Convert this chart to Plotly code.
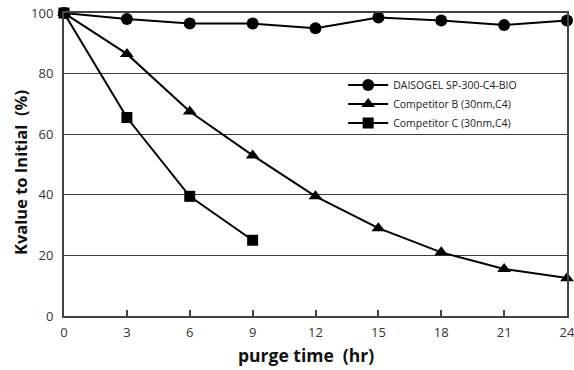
import plotly.graph_objects as go

hours_full = [0, 3, 6, 9, 12, 15, 18, 21, 24]
hours_c = [0, 3, 6, 9]
daisogel = [100, 98, 96.5, 96.5, 95, 98.5, 97.5, 96, 97.5]
competitor_b = [100, 86.5, 67.5, 53, 39.5, 29, 21, 15.5, 12.5]
competitor_c = [100, 65.5, 39.5, 25]
x_ticks = [0, 3, 6, 9, 12, 15, 18, 21, 24]
y_ticks = [0, 20, 40, 60, 80, 100]

FONT = "Open Sans, DejaVu Sans, sans-serif"

fig = go.Figure()
series = [
    ("DAISOGEL SP-300-C4-BIO", hours_full, daisogel, "circle", 12),
    ("Competitor B (30nm,C4)", hours_full, competitor_b, "triangle-up", 12),
    ("Competitor C (30nm,C4)", hours_c, competitor_c, "square", 11),
]
for name, xs, ys, sym, size in series:
    fig.add_trace(go.Scatter(
        x=xs, y=ys, name=name, mode="lines+markers",
        line=dict(color="black", width=2),
        marker=dict(symbol=sym, size=size, color="black"),
        cliponaxis=False,
    ))

fig.update_layout(
    width=574, height=370,
    margin=dict(l=64, r=7, t=13, b=54),
    paper_bgcolor="white", plot_bgcolor="white",
    font=dict(family=FONT, color="#333"),
    showlegend=True,
    legend=dict(
        x=0.555, y=0.81, xanchor="left", yanchor="top",
        bgcolor="rgba(0,0,0,0)", borderwidth=0,
        font=dict(size=10.5, color="#222", family=FONT),
        itemwidth=40, tracegroupgap=0,
    ),
    annotations=[
        dict(
            text="<b>purge time&nbsp;&nbsp;(hr)</b>",
            xref="paper", yref="paper", x=0.481, y=-0.128,
            xanchor="center", yanchor="middle", showarrow=False,
            font=dict(size=17.5, color="#111", family=FONT),
        ),
        dict(
            text="<b>Kvalue to Initial&nbsp;&nbsp;(%)</b>",
            xref="paper", yref="paper", x=-0.0875, y=0.475,
            xanchor="center", yanchor="middle", showarrow=False, textangle=-90,
            font=dict(size=16.5, color="#111", family=FONT),
        ),
    ],
)
fig.update_xaxes(
    range=[0, 24], tickvals=x_ticks, ticktext=[str(v) for v in x_ticks],
    ticks="inside", ticklen=6, tickwidth=1.5, tickcolor="#444",
    showline=True, linecolor="#444", linewidth=2, mirror=True,
    showgrid=False, zeroline=False, automargin=False,
    ticklabeloverflow="allow",
    tickfont=dict(size=13, color="#333"), ticklabelstandoff=3,
)
fig.update_yaxes(
    range=[0, 100], tickvals=y_ticks, ticktext=[str(v) for v in y_ticks],
    ticks="", showline=True, linecolor="#444", linewidth=2, mirror=True,
    showgrid=True, gridcolor="#3a3a3a", gridwidth=1.4, zeroline=False, automargin=False,
    ticklabeloverflow="allow",
    tickfont=dict(size=13, color="#333"), ticklabelstandoff=6,
)

fig.write_html("out.html")
